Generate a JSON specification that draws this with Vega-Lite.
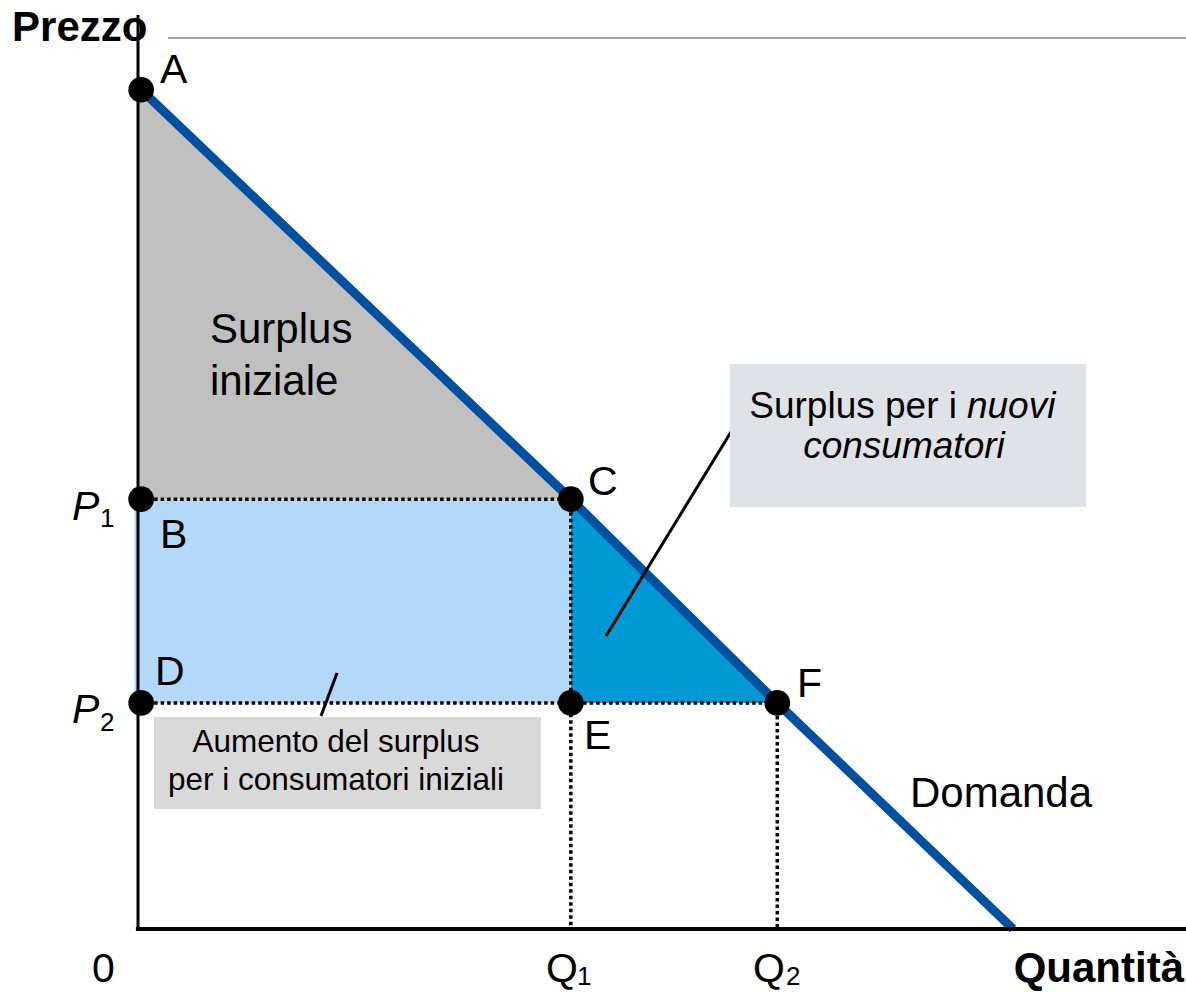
{
  "$schema": "https://vega.github.io/schema/vega-lite/v6.json",
  "autosize": "none",
  "padding": {"left": 138, "top": 39, "right": 0, "bottom": 63},
  "width": 1048,
  "height": 890,
  "background": "white",
  "config": {"view": {"stroke": null}},
  "encoding": {
    "x": {"field": "q", "type": "quantitative", "scale": {"domain": [0, 100], "nice": false, "zero": false}, "axis": null},
    "y": {"field": "p", "type": "quantitative", "scale": {"domain": [0, 100], "nice": false, "zero": false}, "axis": null}
  },
  "layer": [
    {
      "data": {"values": [{"q": -0.35, "p": 25.4, "q2": 41.3, "p2": 48.3}]},
      "mark": {"type": "rect", "fill": "#B3D8F8"},
      "encoding": {"x2": {"field": "q2"}, "y2": {"field": "p2"}}
    },
    {
      "data": {"values": [{"q": 0, "p": 94.3, "p2": 48.3}, {"q": 41.3, "p": 48.3, "p2": 48.3}]},
      "mark": {"type": "area", "fill": "#C0C0C0"},
      "encoding": {"y2": {"field": "p2"}}
    },
    {
      "data": {"values": [{"q": 41.3, "p": 48.3, "p2": 25.4}, {"q": 61, "p": 25.4, "p2": 25.4}]},
      "mark": {"type": "area", "fill": "#0099D6"},
      "encoding": {"y2": {"field": "p2"}}
    },
    {
      "data": {"values": [
        {"q": 0.3, "p": 48.3, "q2": 41.3, "p2": 48.3},
        {"q": 0.3, "p": 25.4, "q2": 61, "p2": 25.4},
        {"q": 41.3, "p": 48.3, "q2": 41.3, "p2": 0},
        {"q": 61, "p": 25.4, "q2": 61, "p2": 0}
      ]},
      "mark": {"type": "rule", "color": "black", "strokeWidth": 3.5, "strokeDash": [3.5, 3]},
      "encoding": {"x2": {"field": "q2"}, "y2": {"field": "p2"}}
    },
    {
      "data": {"values": [{"q": 0.3, "p": 94.3}, {"q": 41.3, "p": 48.3}, {"q": 61, "p": 25.4}, {"q": 83.5, "p": 0}]},
      "mark": {"type": "line", "color": "#0050A0", "strokeWidth": 9, "strokeCap": "butt"}
    },
    {
      "data": {"values": [{"q": 0, "p": -0.2, "q2": 0, "p2": 102.7}]},
      "mark": {"type": "rule", "color": "black", "strokeWidth": 3},
      "encoding": {"x2": {"field": "q2"}, "y2": {"field": "p2"}}
    },
    {
      "data": {"values": [{"q": -0.2, "p": 0, "q2": 100, "p2": 0}]},
      "mark": {"type": "rule", "color": "black", "strokeWidth": 4},
      "encoding": {"x2": {"field": "q2"}, "y2": {"field": "p2"}}
    },
    {
      "data": {"values": [{"q": 2.86, "p": 100.11, "q2": 100, "p2": 100.11}]},
      "mark": {"type": "rule", "color": "#A6A6A6", "strokeWidth": 2},
      "encoding": {"x2": {"field": "q2"}, "y2": {"field": "p2"}}
    },
    {
      "data": {"values": [
        {"q": 44.66, "p": 32.92, "q2": 56.58, "p2": 55.84},
        {"q": 18.99, "p": 28.76, "q2": 17.46, "p2": 23.93}
      ]},
      "mark": {"type": "rule", "color": "black", "strokeWidth": 3},
      "encoding": {"x2": {"field": "q2"}, "y2": {"field": "p2"}}
    },
    {
      "data": {"values": [{"q": 56.49, "p": 63.48, "q2": 90.46, "p2": 47.42}]},
      "mark": {"type": "rect", "fill": "#DFE2E7"},
      "encoding": {"x2": {"field": "q2"}, "y2": {"field": "p2"}}
    },
    {
      "data": {"values": [{"q": 1.53, "p": 23.82, "q2": 38.45, "p2": 13.48}]},
      "mark": {"type": "rect", "fill": "#D9D9D9"},
      "encoding": {"x2": {"field": "q2"}, "y2": {"field": "p2"}}
    },
    {
      "data": {"values": [
        {"q": 0.3, "p": 94.3}, {"q": 0.3, "p": 48.3}, {"q": 41.3, "p": 48.3},
        {"q": 0.3, "p": 25.4}, {"q": 41.3, "p": 25.4}, {"q": 61, "p": 25.4}
      ]},
      "mark": {"type": "circle", "size": 660, "color": "black", "opacity": 1}
    },
    {
      "data": {"values": [
        {"q": 2.1, "p": 95.06, "label": "A"},
        {"q": 2.1, "p": 42.81, "label": "B"},
        {"q": 42.94, "p": 48.76, "label": "C"},
        {"q": 1.62, "p": 27.42, "label": "D"},
        {"q": 42.56, "p": 20.22, "label": "E"},
        {"q": 62.88, "p": 26.07, "label": "F"},
        {"q": -4.39, "p": -5.96, "label": "0"},
        {"q": 38.93, "p": -5.96, "label": "Q"},
        {"q": 58.68, "p": -5.96, "label": "Q"}
      ]},
      "mark": {"type": "text", "font": "Liberation Sans", "fontSize": 41, "align": "left", "baseline": "alphabetic", "color": "black"},
      "encoding": {"text": {"field": "label"}}
    },
    {
      "data": {"values": [
        {"q": 6.87, "p": 65.84, "label": "Surplus"},
        {"q": 6.87, "p": 60.0, "label": "iniziale"},
        {"q": 73.66, "p": 13.71, "label": "Domanda"}
      ]},
      "mark": {"type": "text", "font": "Liberation Sans", "fontSize": 42, "align": "left", "baseline": "alphabetic", "color": "black"},
      "encoding": {"text": {"field": "label"}}
    },
    {
      "data": {"values": [
        {"q": -6.3, "p": 45.96, "label": "P"},
        {"q": -6.3, "p": 23.15, "label": "P"}
      ]},
      "mark": {"type": "text", "font": "Liberation Sans", "fontSize": 41, "fontStyle": "italic", "align": "left", "baseline": "alphabetic", "color": "black"},
      "encoding": {"text": {"field": "label"}}
    },
    {
      "data": {"values": [
        {"q": -3.63, "p": 45.17, "label": "1"},
        {"q": -3.63, "p": 22.25, "label": "2"},
        {"q": 41.89, "p": -6.29, "label": "1"},
        {"q": 61.83, "p": -6.29, "label": "2"}
      ]},
      "mark": {"type": "text", "font": "Liberation Sans", "fontSize": 26, "align": "left", "baseline": "alphabetic", "color": "black"},
      "encoding": {"text": {"field": "label"}}
    },
    {
      "data": {"values": [{"q": 78.15, "p": 57.42, "label": "Surplus per i"}]},
      "mark": {"type": "text", "font": "Liberation Sans", "fontSize": 37, "align": "right", "baseline": "alphabetic", "color": "black"},
      "encoding": {"text": {"field": "label"}}
    },
    {
      "data": {"values": [{"q": 79.1, "p": 57.42, "label": "nuovi"}]},
      "mark": {"type": "text", "font": "Liberation Sans", "fontSize": 37, "fontStyle": "italic", "align": "left", "baseline": "alphabetic", "color": "black"},
      "encoding": {"text": {"field": "label"}}
    },
    {
      "data": {"values": [{"q": 73.09, "p": 52.92, "label": "consumatori"}]},
      "mark": {"type": "text", "font": "Liberation Sans", "fontSize": 37, "fontStyle": "italic", "align": "center", "baseline": "alphabetic", "color": "black"},
      "encoding": {"text": {"field": "label"}}
    },
    {
      "data": {"values": [
        {"q": 18.89, "p": 19.89, "label": "Aumento del surplus"},
        {"q": 18.89, "p": 15.62, "label": "per i consumatori iniziali"}
      ]},
      "mark": {"type": "text", "font": "Liberation Sans", "fontSize": 31.5, "align": "center", "baseline": "alphabetic", "color": "black"},
      "encoding": {"text": {"field": "label"}}
    },
    {
      "data": {"values": [{"q": -12.02, "p": 99.78, "label": "Prezzo"}]},
      "mark": {"type": "text", "font": "Liberation Sans", "fontSize": 42, "fontWeight": "bold", "align": "left", "baseline": "alphabetic", "color": "black"},
      "encoding": {"text": {"field": "label"}}
    },
    {
      "data": {"values": [{"q": 99.81, "p": -5.96, "label": "Quantità"}]},
      "mark": {"type": "text", "font": "Liberation Sans", "fontSize": 42, "fontWeight": "bold", "align": "right", "baseline": "alphabetic", "color": "black"},
      "encoding": {"text": {"field": "label"}}
    }
  ]
}
